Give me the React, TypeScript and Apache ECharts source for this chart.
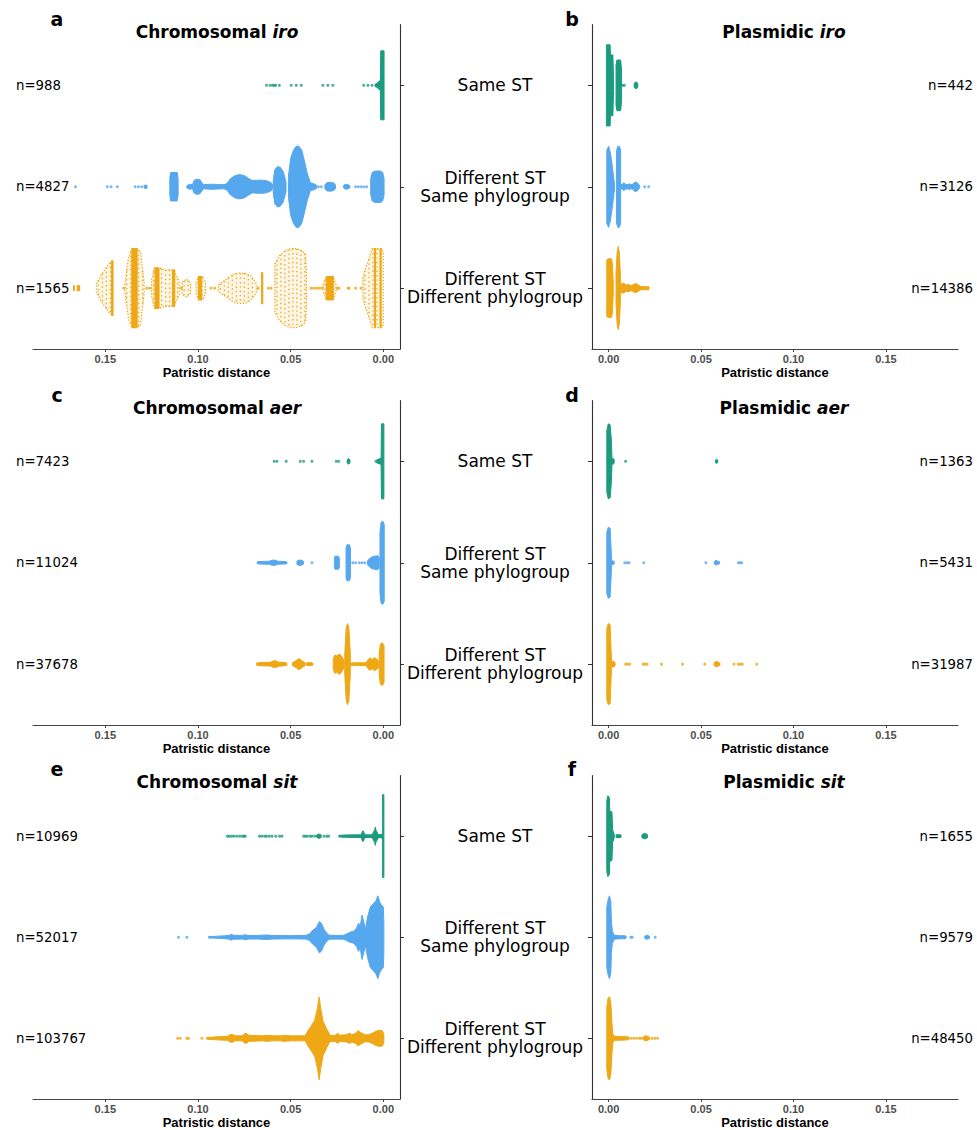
import React, { useEffect, useRef } from "react";
import * as echarts from "echarts";

type Blob = [number, number][];

const categories = ["Same ST", "Different ST\nSame phylogroup", "Different ST\nDifferent phylogroup"];
const categoryPositions = [1, 2, 3];
const xTickValues = [0, 0.05, 0.1, 0.15];
const groupColors = ["#1b9b7f", "#56a8ee", "#eea815"];

const panelLetters = ["a", "b", "c", "d", "e", "f"];
const panelKinds = ["Chromosomal", "Plasmidic", "Chromosomal", "Plasmidic", "Chromosomal", "Plasmidic"];
const panelGenes = ["iro", "iro", "aer", "aer", "sit", "sit"];

const nChrIro = [988, 4827, 1565];
const nPlaIro = [442, 3126, 14386];
const nChrAer = [7423, 11024, 37678];
const nPlaAer = [1363, 5431, 31987];
const nChrSit = [10969, 52017, 103767];
const nPlaSit = [1655, 9579, 48450];

// ---------- Chromosomal iro ----------
const chrIroSameBlobs: Blob[] = [
  [[-0.0004, 0.34], [0.0014, 0.34], [0.0016, 0.05], [0.0035, 0.02], [0.0045, 0.01]],
];
const chrIroSameDots = [0.063, 0.0611, 0.0598, 0.0589, 0.0581, 0.0561, 0.0497, 0.047, 0.0443, 0.0326, 0.0299, 0.0272, 0.0106, 0.0083, 0.0061];

const chrIroDiffBlobs: Blob[] = [
  [[0.129, 0.015], [0.1275, 0.015]],
  [[0.1152, 0.08], [0.1148, 0.14], [0.1112, 0.14], [0.1107, 0.08]],
  [[0.106, 0.01], [0.1045, 0.025], [0.103, 0.02]],
  [[0.1028, 0.03], [0.102, 0.065], [0.1005, 0.075], [0.099, 0.07], [0.0978, 0.04], [0.097, 0.02]],
  [[0.097, 0.02], [0.093, 0.025], [0.089, 0.022], [0.086, 0.02], [0.0845, 0.03]],
  [[0.0845, 0.03], [0.0825, 0.08], [0.08, 0.11], [0.0775, 0.12], [0.075, 0.11], [0.0725, 0.08], [0.0705, 0.06]],
  [[0.0705, 0.06], [0.068, 0.065], [0.0655, 0.065], [0.063, 0.06], [0.0605, 0.04], [0.0598, 0.02]],
  [[0.0594, 0.06], [0.0585, 0.17], [0.057, 0.2], [0.0555, 0.19], [0.054, 0.15], [0.0525, 0.05]],
  [[0.0512, 0.1], [0.05, 0.28], [0.0485, 0.36], [0.047, 0.4], [0.0455, 0.4], [0.044, 0.36], [0.0425, 0.25], [0.041, 0.13], [0.0395, 0.05]],
  [[0.0395, 0.04], [0.0375, 0.03], [0.036, 0.015]],
  [[0.0315, 0.02], [0.0305, 0.04], [0.0285, 0.045], [0.0265, 0.035], [0.0258, 0.015]],
  [[0.0215, 0.01], [0.0205, 0.025], [0.019, 0.02], [0.018, 0.01]],
  [[0.0068, 0.08], [0.006, 0.14], [0.0045, 0.155], [0.0015, 0.155], [0.0003, 0.14], [-0.0004, 0.08]],
];
const chrIroDiffDots = [0.1661, 0.1489, 0.1469, 0.1435, 0.1339, 0.1321, 0.1303, 0.035, 0.0335, 0.015, 0.0135, 0.012, 0.0105, 0.009];

const chrIroDiffPgBlobs: Blob[] = [
  [[0.1672, 0.025], [0.1667, 0.025]],
  [[0.1652, 0.025], [0.1638, 0.025]],
  [[0.1466, 0.27], [0.1458, 0.27]],
  [[0.1357, 0.39], [0.1328, 0.39]],
  [[0.1232, 0.2], [0.121, 0.2]],
  [[0.1138, 0.18], [0.1125, 0.18]],
  [[0.0998, 0.115], [0.098, 0.115]],
  [[0.0657, 0.155], [0.065, 0.155]],
  [[0.0308, 0.115], [0.027, 0.115]],
  [[0.0048, 0.39], [0.0042, 0.39]],
  [[0.0018, 0.39], [0.0012, 0.39]],
];
const chrIroDiffPgSparse: Blob[] = [
  [[0.1548, 0.04], [0.1525, 0.12], [0.15, 0.19], [0.1475, 0.25], [0.1462, 0.27]],
  [[0.1395, 0.03], [0.1375, 0.3], [0.1357, 0.39], [0.1328, 0.39], [0.131, 0.36], [0.13, 0.2], [0.129, 0.05]],
  [[0.125, 0.08], [0.1235, 0.2], [0.121, 0.2], [0.118, 0.18], [0.115, 0.18], [0.113, 0.18], [0.1115, 0.12], [0.11, 0.05]],
  [[0.1085, 0.06], [0.106, 0.09], [0.104, 0.05]],
  [[0.101, 0.05], [0.0995, 0.115], [0.0975, 0.115], [0.096, 0.06]],
  [[0.089, 0.03], [0.086, 0.07], [0.083, 0.11], [0.08, 0.145], [0.077, 0.15], [0.074, 0.145], [0.0715, 0.12], [0.069, 0.06], [0.0682, 0.02]],
  [[0.0585, 0.24], [0.056, 0.32], [0.053, 0.37], [0.05, 0.39], [0.047, 0.39], [0.044, 0.37], [0.0422, 0.34], [0.0415, 0.2]],
  [[0.0325, 0.03], [0.0308, 0.115], [0.027, 0.115], [0.0255, 0.03]],
  [[0.011, 0.1], [0.0095, 0.2], [0.0075, 0.3], [0.0066, 0.36], [0.006, 0.39], [0.001, 0.39], [0.0, 0.36]],
];
const chrIroDiffPgDots = [0.14, 0.1275, 0.126, 0.109, 0.093, 0.091, 0.0675, 0.062, 0.0605, 0.039, 0.0375, 0.036, 0.0345, 0.033, 0.025, 0.024, 0.019, 0.0185, 0.015, 0.012];

// ---------- Plasmidic iro ----------
const plaIroSameBlobs: Blob[] = [
  [[-0.0012, 0.4], [0.0008, 0.4], [0.001, 0.3], [0.0023, 0.3], [0.0026, 0.1]],
  [[0.004, 0.2], [0.0045, 0.25], [0.0065, 0.25], [0.007, 0.15]],
  [[0.0138, 0.02], [0.0148, 0.035], [0.0158, 0.02]],
];
const plaIroSameDots = [0.0076, 0.0085];

const plaIroDiffBlobs: Blob[] = [
  [[-0.001, 0.36], [0.0, 0.4], [0.001, 0.33], [0.002, 0.2], [0.0028, 0.08], [0.0032, 0.02]],
  [[0.0043, 0.36], [0.005, 0.4], [0.0058, 0.4], [0.0065, 0.36]],
  [[0.0065, 0.02], [0.0075, 0.025], [0.0082, 0.04], [0.009, 0.025], [0.0105, 0.02], [0.0112, 0.03], [0.012, 0.02], [0.0132, 0.025], [0.014, 0.045], [0.0152, 0.045], [0.0162, 0.025], [0.0168, 0.01]],
];
const plaIroDiffDots = [0.0195, 0.0217];

const plaIroDiffPgBlobs: Blob[] = [
  [[-0.001, 0.28], [0.0, 0.29], [0.0015, 0.29], [0.002, 0.25], [0.0025, 0.05]],
  [[0.004, 0.15], [0.0046, 0.35], [0.0052, 0.41], [0.0058, 0.35], [0.0064, 0.12]],
  [[0.0064, 0.03], [0.0075, 0.05], [0.0085, 0.045], [0.0095, 0.03], [0.0105, 0.035], [0.0115, 0.03], [0.0125, 0.025], [0.0138, 0.04], [0.015, 0.045], [0.016, 0.03], [0.0175, 0.015], [0.0218, 0.015]],
];
const plaIroDiffPgDots: number[] = [];

// ---------- Chromosomal aer ----------
const chrAerSameBlobs: Blob[] = [
  [[-0.0003, 0.37], [0.001, 0.37], [0.0012, 0.03], [0.0035, 0.015]],
  [[0.0195, 0.015], [0.0188, 0.028], [0.018, 0.015]],
];
const chrAerSameDots = [0.0589, 0.0574, 0.0524, 0.0448, 0.043, 0.0385, 0.0254, 0.0241, 0.004];

const chrAerDiffBlobs: Blob[] = [
  [[0.068, 0.01], [0.066, 0.013], [0.0615, 0.015], [0.06, 0.025], [0.0585, 0.026], [0.057, 0.015], [0.053, 0.012], [0.052, 0.008]],
  [[0.0466, 0.015], [0.0455, 0.026], [0.044, 0.024], [0.043, 0.012]],
  [[0.0264, 0.05], [0.026, 0.065], [0.0242, 0.065], [0.0237, 0.04]],
  [[0.0201, 0.15], [0.0196, 0.177], [0.0182, 0.177], [0.0177, 0.14]],
  [[0.0085, 0.02], [0.0075, 0.04], [0.006, 0.06], [0.0045, 0.065], [0.003, 0.07], [0.0022, 0.05]],
  [[0.0018, 0.3], [0.0012, 0.4], [0.0003, 0.41], [-0.0005, 0.38]],
];
const chrAerDiffDots = [0.0385, 0.0165, 0.015, 0.013, 0.0115, 0.01];

const chrAerDiffPgBlobs: Blob[] = [
  [[0.0683, 0.012], [0.066, 0.016], [0.061, 0.018], [0.0595, 0.03], [0.058, 0.033], [0.0565, 0.02], [0.053, 0.016], [0.052, 0.01]],
  [[0.049, 0.015], [0.047, 0.035], [0.0455, 0.055], [0.044, 0.035], [0.0422, 0.015]],
  [[0.0415, 0.012], [0.039, 0.015], [0.038, 0.01]],
  [[0.027, 0.05], [0.0262, 0.09], [0.025, 0.08], [0.024, 0.1], [0.023, 0.09], [0.022, 0.06], [0.0212, 0.04]],
  [[0.0208, 0.1], [0.02, 0.36], [0.0193, 0.4], [0.0186, 0.36], [0.0178, 0.1]],
  [[0.0175, 0.012], [0.014, 0.014], [0.01, 0.013], [0.009, 0.02]],
  [[0.009, 0.02], [0.008, 0.05], [0.007, 0.06], [0.006, 0.045], [0.0048, 0.065], [0.0035, 0.05], [0.0025, 0.03]],
  [[0.0022, 0.12], [0.0015, 0.2], [0.0005, 0.21], [-0.0004, 0.18]],
];
const chrAerDiffPgDots: number[] = [];

// ---------- Plasmidic aer ----------
const plaAerSameBlobs: Blob[] = [
  [[-0.001, 0.3], [-0.0002, 0.37], [0.0008, 0.36], [0.0015, 0.2], [0.0018, 0.03]],
  [[0.0018, 0.02], [0.0025, 0.03], [0.003, 0.015]],
  [[0.0578, 0.012], [0.0584, 0.022], [0.059, 0.012]],
];
const plaAerSameDots = [0.0092];

const plaAerDiffBlobs: Blob[] = [
  [[-0.001, 0.3], [-0.0002, 0.35], [0.0008, 0.34], [0.0013, 0.15], [0.0016, 0.02]],
  [[0.0016, 0.015], [0.0025, 0.02], [0.003, 0.01]],
  [[0.0572, 0.01], [0.058, 0.025], [0.059, 0.015], [0.06, 0.01]],
];
const plaAerDiffDots = [0.0087, 0.01, 0.0111, 0.019, 0.0526, 0.0702, 0.0712, 0.072];

const plaAerDiffPgBlobs: Blob[] = [
  [[-0.001, 0.35], [-0.0002, 0.4], [0.0008, 0.39], [0.0013, 0.15], [0.0016, 0.03]],
  [[0.0016, 0.02], [0.0025, 0.03], [0.0035, 0.015]],
  [[0.057, 0.01], [0.058, 0.028], [0.0592, 0.02], [0.0602, 0.01]],
];
const plaAerDiffPgDots = [0.0092, 0.0103, 0.0114, 0.0186, 0.0197, 0.0208, 0.0286, 0.04, 0.052, 0.0678, 0.0702, 0.0712, 0.0723, 0.0801];

// ---------- Chromosomal sit ----------
const chrSitSameBlobs: Blob[] = [
  [[-0.0003, 0.41], [0.0004, 0.41]],
  [[0.0004, 0.02], [0.0025, 0.013], [0.006, 0.013], [0.01, 0.013], [0.0118, 0.013], [0.02, 0.012], [0.024, 0.008]],
  [[0.0025, 0.01], [0.004, 0.06], [0.0043, 0.09], [0.0047, 0.06], [0.006, 0.015]],
  [[0.01, 0.015], [0.0108, 0.05], [0.0112, 0.052], [0.0118, 0.02]],
  [[0.036, 0.01], [0.035, 0.02], [0.034, 0.02], [0.0335, 0.01]],
];
const chrSitSameDots = [0.043, 0.042, 0.041, 0.0395, 0.0385, 0.037, 0.032, 0.0305, 0.0295, 0.0668, 0.0655, 0.064, 0.063, 0.0615, 0.06, 0.058, 0.056, 0.0547, 0.0841, 0.083, 0.0818, 0.0805, 0.079, 0.0775, 0.076, 0.0752, 0.0745];

const chrSitDiffBlobs: Blob[] = [
  [[0.094, 0.006], [0.09, 0.01], [0.085, 0.015], [0.083, 0.02], [0.0821, 0.03], [0.081, 0.02], [0.076, 0.018], [0.0745, 0.025], [0.073, 0.018], [0.068, 0.018], [0.0628, 0.022], [0.06, 0.018], [0.05, 0.016], [0.042, 0.018], [0.04, 0.03]],
  [[0.04, 0.03], [0.038, 0.07], [0.036, 0.1], [0.0345, 0.155], [0.0335, 0.14], [0.032, 0.08], [0.0305, 0.04], [0.0295, 0.025]],
  [[0.0295, 0.02], [0.025, 0.018], [0.0215, 0.02], [0.02, 0.03]],
  [[0.02, 0.03], [0.018, 0.05], [0.016, 0.06], [0.0145, 0.09], [0.0133, 0.14], [0.0125, 0.1], [0.0115, 0.22], [0.0105, 0.15], [0.0097, 0.08], [0.0085, 0.2], [0.007, 0.3], [0.0055, 0.33], [0.004, 0.36], [0.0029, 0.41], [0.002, 0.35], [0.001, 0.32], [0.0, 0.3], [-0.0003, 0.15]],
];
const chrSitDiffDots = [0.1105, 0.106, 0.0938];

const chrSitDiffPgBlobs: Blob[] = [
  [[0.0945, 0.008], [0.09, 0.015], [0.084, 0.02], [0.0828, 0.035], [0.0815, 0.04], [0.08, 0.025], [0.076, 0.025], [0.075, 0.045], [0.074, 0.05], [0.0725, 0.03], [0.065, 0.025], [0.0628, 0.03], [0.06, 0.025], [0.055, 0.025], [0.054, 0.03], [0.05, 0.025], [0.042, 0.025]],
  [[0.042, 0.03], [0.0405, 0.08], [0.039, 0.12], [0.037, 0.18], [0.0355, 0.3], [0.0346, 0.41], [0.0338, 0.3], [0.0325, 0.17], [0.0305, 0.09], [0.029, 0.04]],
  [[0.029, 0.03], [0.026, 0.03], [0.0245, 0.05], [0.0235, 0.03], [0.02, 0.035], [0.018, 0.05], [0.017, 0.035], [0.015, 0.05], [0.0135, 0.075], [0.0125, 0.06], [0.01, 0.035], [0.008, 0.035], [0.006, 0.05], [0.004, 0.07], [0.002, 0.08], [0.0005, 0.075], [-0.0003, 0.04]],
];
const chrSitDiffPgDots = [0.111, 0.1095, 0.106, 0.1051, 0.0979, 0.095, 0.0943];

// ---------- Plasmidic sit ----------
const plaSitSameBlobs: Blob[] = [
  [[-0.001, 0.35], [-0.0004, 0.4], [0.0004, 0.38], [0.0006, 0.25], [0.0018, 0.24], [0.0022, 0.06], [0.003, 0.02]],
  [[0.004, 0.012], [0.005, 0.015], [0.0067, 0.012]],
  [[0.018, 0.015], [0.019, 0.025], [0.02, 0.025], [0.021, 0.015]],
];
const plaSitSameDots: number[] = [];

const plaSitDiffBlobs: Blob[] = [
  [[-0.001, 0.3], [-0.0002, 0.38], [0.0005, 0.41], [0.0012, 0.35], [0.0015, 0.15], [0.002, 0.06], [0.0028, 0.03]],
  [[0.0028, 0.02], [0.006, 0.015], [0.0089, 0.015], [0.0095, 0.008]],
  [[0.0195, 0.01], [0.0205, 0.02], [0.0215, 0.015], [0.0222, 0.01]],
];
const plaSitDiffDots = [0.012, 0.0128, 0.0252];

const plaSitDiffPgBlobs: Blob[] = [
  [[-0.001, 0.3], [-0.0003, 0.4], [0.0005, 0.41], [0.0012, 0.35], [0.0018, 0.15], [0.0022, 0.05], [0.0028, 0.025]],
  [[0.0028, 0.02], [0.007, 0.018], [0.0105, 0.015], [0.011, 0.008]],
  [[0.0185, 0.01], [0.0198, 0.025], [0.0212, 0.02], [0.0222, 0.01]],
];
const plaSitDiffPgDots = [0.012, 0.0135, 0.015, 0.0165, 0.0175, 0.0235, 0.025, 0.0265];

// ---------- assembly ----------
const panelCounts = [nChrIro, nPlaIro, nChrAer, nPlaAer, nChrSit, nPlaSit];
const panelBlobs: Blob[][][] = [
  [chrIroSameBlobs, chrIroDiffBlobs, chrIroDiffPgBlobs],
  [plaIroSameBlobs, plaIroDiffBlobs, plaIroDiffPgBlobs],
  [chrAerSameBlobs, chrAerDiffBlobs, chrAerDiffPgBlobs],
  [plaAerSameBlobs, plaAerDiffBlobs, plaAerDiffPgBlobs],
  [chrSitSameBlobs, chrSitDiffBlobs, chrSitDiffPgBlobs],
  [plaSitSameBlobs, plaSitDiffBlobs, plaSitDiffPgBlobs],
];
const panelSparse: Blob[][][] = [
  [[], [], chrIroDiffPgSparse],
  [[], [], []],
  [[], [], []],
  [[], [], []],
  [[], [], []],
  [[], [], []],
];
const panelDots: number[][][] = [
  [chrIroSameDots, chrIroDiffDots, chrIroDiffPgDots],
  [plaIroSameDots, plaIroDiffDots, plaIroDiffPgDots],
  [chrAerSameDots, chrAerDiffDots, chrAerDiffPgDots],
  [plaAerSameDots, plaAerDiffDots, plaAerDiffPgDots],
  [chrSitSameDots, chrSitDiffDots, chrSitDiffPgDots],
  [plaSitSameDots, plaSitDiffDots, plaSitDiffPgDots],
];

const ROW_TOPS = [24.5, 400.5, 775.5];
const ROW_H = 324.5;
const LEFT_X = 33, LEFT_W = 367;
const RIGHT_X = 592, RIGHT_W = 366;
const X_MIN = -0.009, X_MAX = 0.189;

function rgba(hex: string, a: number) {
  const r = parseInt(hex.slice(1, 3), 16), g = parseInt(hex.slice(3, 5), 16), b = parseInt(hex.slice(5, 7), 16);
  return `rgba(${r},${g},${b},${a})`;
}

function blobSeries(g: number, cat: number, color: string, blobs: Blob[], sparse: boolean) {
  return {
    type: "custom",
    xAxisIndex: g,
    yAxisIndex: 2 * g,
    silent: true,
    encode: { x: 0, y: 1 },
    data: blobs.map((b, i) => [b[0][0], cat, i]),
    renderItem: (params: any, api: any) => {
      const blob = blobs[params.dataIndex];
      const top = blob.map(([d, h]) => api.coord([d, cat - h]));
      const bot = blob.map(([d, h]) => api.coord([d, cat + h]));
      const pts = top.concat(bot.slice().reverse());
      if (!sparse) {
        return {
          type: "polygon",
          shape: { points: pts },
          style: { fill: color, stroke: color, lineWidth: 1 },
        };
      }
      // sparse swarm: dotted outline + dotted columns inside envelope
      const children: any[] = [
        {
          type: "polygon",
          shape: { points: pts },
          style: { fill: rgba(color, 0.1), stroke: color, lineWidth: 1.2, lineDash: [1.4, 1.6] },
        },
      ];
      const xs = top.map((p: number[]) => p[0]);
      const x0 = Math.min(...xs), x1 = Math.max(...xs);
      for (let x = x0 + 2; x < x1 - 1; x += 4) {
        let k = 0;
        for (k = 0; k < xs.length - 1; k++) {
          const a = xs[k], b = xs[k + 1];
          if ((x - a) * (x - b) <= 0) break;
        }
        if (k >= xs.length - 1) continue;
        const a = xs[k], b = xs[k + 1];
        const t = b === a ? 0 : (x - a) / (b - a);
        const yt = top[k][1] + t * (top[k + 1][1] - top[k][1]);
        const yb = bot[k][1] + t * (bot[k + 1][1] - bot[k][1]);
        children.push({
          type: "line",
          shape: { x1: x, y1: yt, x2: x, y2: yb },
          style: { stroke: color, lineWidth: 1.3, lineDash: [1.4, 3] },
        });
      }
      return { type: "group", children };
    },
    z: sparse ? 1 : 2,
  };
}

export default function App() {
  const ref = useRef<HTMLDivElement>(null);
  useEffect(() => {
    if (!ref.current) return;
    const chart = echarts.init(ref.current, undefined, { renderer: "svg" });
    const grids: any[] = [];
    const xAxes: any[] = [];
    const yAxes: any[] = [];
    const series: any[] = [];
    const graphics: any[] = [];
    for (let p = 0; p < 6; p++) {
      const row = Math.floor(p / 2);
      const isLeft = p % 2 === 0;
      const top = ROW_TOPS[row];
      grids.push({ left: isLeft ? LEFT_X : RIGHT_X, top, width: isLeft ? LEFT_W : RIGHT_W, height: ROW_H, containLabel: false });
      xAxes.push({
        type: "value",
        gridIndex: p,
        min: X_MIN,
        max: X_MAX,
        inverse: isLeft,
        splitLine: { show: false },
        axisLine: { show: true, onZero: false, lineStyle: { color: "#444", width: 1.2 } },
        axisTick: { show: true, customValues: xTickValues, length: 3, lineStyle: { color: "#444" } },
        axisLabel: {
          customValues: xTickValues,
          formatter: (v: number) => v.toFixed(2),
          fontSize: 11,
          fontWeight: "bold",
          color: "#4d4d4d",
          fontFamily: "Liberation Sans, Arial, sans-serif",
          margin: 4,
        },
        name: "Patristic distance",
        nameLocation: "middle",
        nameGap: 17,
        nameTextStyle: { fontSize: 13, fontWeight: "bold", color: "#000", fontFamily: "Liberation Sans, Arial, sans-serif" },
      });
      const counts = panelCounts[p];
      yAxes.push({
        type: "value",
        gridIndex: p,
        min: 0.4,
        max: 3.6,
        inverse: true,
        position: isLeft ? "right" : "left",
        splitLine: { show: false },
        axisLine: { show: true, onZero: false, lineStyle: { color: "#333", width: 1.1 } },
        axisTick: { show: true, customValues: categoryPositions, length: 4, lineStyle: { color: "#333" } },
        axisLabel: isLeft
          ? { show: false }
          : {
              show: true,
              customValues: categoryPositions,
              formatter: (v: number) => categories[Math.round(v) - 1] ?? "",
              align: "center",
              margin: 97,
              fontSize: 17,
              lineHeight: 18,
              color: "#000",
              fontFamily: "DejaVu Sans, sans-serif",
            },
      });
      yAxes.push({
        type: "value",
        gridIndex: p,
        min: 0.4,
        max: 3.6,
        inverse: true,
        position: isLeft ? "left" : "right",
        splitLine: { show: false },
        axisLine: { show: false, onZero: false },
        axisTick: { show: false },
        axisLabel: {
          show: true,
          customValues: categoryPositions,
          formatter: (v: number) => "n=" + counts[Math.round(v) - 1],
          align: isLeft ? "left" : "right",
          margin: isLeft ? 17 : 15,
          fontSize: 13.3,
          color: "#000",
          fontFamily: "DejaVu Sans, sans-serif",
        },
      });
      for (let c = 0; c < 3; c++) {
        const color = groupColors[c];
        const cat = categoryPositions[c];
        if (panelSparse[p][c].length) series.push(blobSeries(p, cat, color, panelSparse[p][c], true));
        series.push(blobSeries(p, cat, color, panelBlobs[p][c], false));
        if (panelDots[p][c].length)
          series.push({
            type: "scatter",
            xAxisIndex: p,
            yAxisIndex: 2 * p,
            silent: true,
            symbolSize: 3,
            itemStyle: { color },
            data: panelDots[p][c].map((d) => [d, cat]),
            z: 3,
          });
      }
      const titleY = [31.5, 408, 782][row];
      const letterY = [19, 395, 769][row];
      graphics.push({
        type: "text",
        x: isLeft ? 217 : 784,
        y: titleY,
        style: {
          text: `{b|${panelKinds[p]} }{bi|${panelGenes[p]}}`,
          align: "center",
          verticalAlign: "middle",
          rich: {
            b: { fontSize: 17, fontWeight: "bold", fontFamily: "DejaVu Sans, sans-serif", fill: "#000" },
            bi: { fontSize: 17, fontWeight: "bold", fontStyle: "italic", fontFamily: "DejaVu Sans, sans-serif", fill: "#000" },
          },
        },
      });
      graphics.push({
        type: "text",
        x: isLeft ? 57 : 572,
        y: letterY,
        style: {
          text: panelLetters[p],
          align: "center",
          verticalAlign: "middle",
          fontSize: 19,
          fontWeight: "bold",
          fontFamily: "DejaVu Sans, sans-serif",
          fill: "#000",
        },
      });
    }
    chart.setOption({
      animation: false,
      backgroundColor: "#fff",
      grid: grids,
      xAxis: xAxes,
      yAxis: yAxes,
      series,
      graphic: graphics,
    });
    return () => chart.dispose();
  }, []);
  return <div ref={ref} style={{ position: "absolute", left: 0, top: 0, width: 977, height: 1130 }} />;
}
